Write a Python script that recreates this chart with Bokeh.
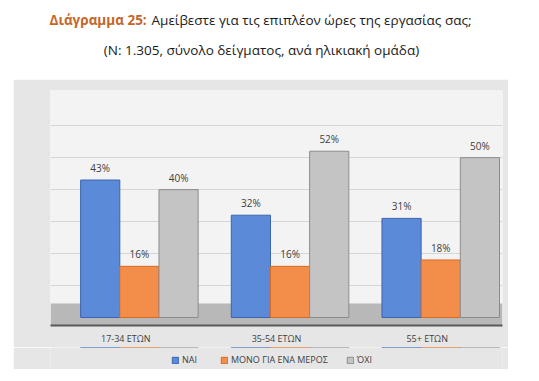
from bokeh.plotting import figure
from bokeh.models import FactorRange, Range1d, ColumnDataSource, Legend, LegendItem, FixedTicker, BoxAnnotation
from bokeh.transform import dodge
from bokeh.layouts import column
from bokeh.core.properties import value
from bokeh.embed import file_html
from bokeh.resources import INLINE

# ---- data ----
categories = ["17-34 ΕΤΩΝ", "35-54 ΕΤΩΝ", "55+ ΕΤΩΝ"]
series_names = ["ΝΑΙ", "ΜΟΝΟ ΓΙΑ ΕΝΑ ΜΕΡΟΣ", "ΌΧΙ"]
nai = [43, 32, 31]
merika = [16, 16, 18]
ochi = [40, 52, 50]
grid_ticks = [10, 20, 30, 40, 50, 60]

title_bold = "Διάγραμμα 25:"
title_rest = "Αμείβεστε για τις επιπλέον ώρες της εργασίας σας;"
subtitle = "(N: 1.305, σύνολο δείγματος, ανά ηλικιακή ομάδα)"

FONT = "Open Sans"
PANEL = "#e6e6e6"
fills = ["#5b8ad8", "#f38e4a", "#c4c4c4"]
lines = ["#3a64b0", "#d96a22", "#8c8c8c"]

# ---- header ----
h = figure(frame_width=490, frame_height=79, x_range=Range1d(37, 527), y_range=Range1d(79, 0),
           x_axis_type=None, y_axis_type=None,
           toolbar_location=None, output_backend="svg", min_border=0)
h.grid.visible = False
h.outline_line_color = None
h.text(x=[49], y=[19], text=[title_bold], text_font=value(FONT), text_font_size="13.5px",
       text_font_style="bold", text_color="#c5662a", text_baseline="middle", text_align="left")
h.text(x=[151], y=[19], text=[title_rest], text_font=value(FONT), text_font_size="13.5px",
       text_color="#1a1a1a", text_baseline="middle", text_align="left")
h.text(x=[261], y=[49], text=[subtitle], text_font=value(FONT), text_font_size="13.5px",
       text_color="#1a1a1a", text_baseline="middle", text_align="center")

# ---- chart ----
src = ColumnDataSource(dict(
    cat=categories, nai=nai, merika=merika, ochi=ochi,
    nai_t=[f"{v}%" for v in nai], merika_t=[f"{v}%" for v in merika], ochi_t=[f"{v}%" for v in ochi],
))

p = figure(frame_width=452, frame_height=235, x_range=FactorRange(*categories), y_range=Range1d(-2.5, 71),
           toolbar_location=None, output_backend="svg",
           min_border_left=37, min_border_right=6, min_border_top=11, min_border_bottom=22)
p.margin = (0, 0, 0, 13)
p.background_fill_color = "#f3f3f3"
p.border_fill_color = PANEL
p.outline_line_color = None

p.yaxis.visible = False
p.ygrid.ticker = FixedTicker(ticks=grid_ticks)
p.ygrid.grid_line_color = "#d6d6d6"
p.xgrid.visible = False

p.add_layout(BoxAnnotation(bottom=-2.5, top=4.4, fill_color="#b8b8b8", fill_alpha=1.0,
                           line_color=None, level="underlay"))

offsets = [-0.17, 0.09, 0.35]
cols = ["nai", "merika", "ochi"]

for off, fc, lc, c in zip(offsets, fills, lines, cols):
    p.vbar(x=dodge("cat", off, range=p.x_range), top=c, bottom=0, width=0.26, source=src,
           fill_color=fc, line_color=lc, line_width=1)
    p.text(x=dodge("cat", off, range=p.x_range), y=c, text=c + "_t", source=src,
           text_font=value(FONT), text_font_size="10px", text_color="#404040",
           text_align="center", text_baseline="bottom", y_offset=-5)

xa = p.xaxis[0]
xa.axis_label = None
xa.axis_line_color = "#595959"
xa.axis_line_width = 2
xa.major_tick_line_color = None
xa.minor_tick_line_color = None
xa.major_tick_out = 0
xa.major_tick_in = 0
xa.minor_tick_out = 0
xa.major_label_text_font = FONT
xa.major_label_text_font_size = "9px"
xa.major_label_text_color = "#404040"
xa.major_label_standoff = 6

# ---- legend strip (continues the grey panel); its bars lie outside its view ----
lg = figure(frame_width=452, frame_height=22, x_range=FactorRange(*categories), y_range=Range1d(-20, -10),
            x_axis_type=None, y_axis_type=None, toolbar_location=None, output_backend="svg",
            min_border_left=37, min_border_right=6, min_border_top=0, min_border_bottom=0)
lg.margin = (0, 0, 0, 13)
lg.background_fill_color = PANEL
lg.border_fill_color = PANEL
lg.outline_line_color = None
lg.grid.visible = False
items = []
for name, off, fc, lc, c in zip(series_names, offsets, fills, lines, cols):
    r = lg.vbar(x=dodge("cat", off, range=lg.x_range), top=c, bottom=0, width=0.26, source=src,
                fill_color=fc, line_color=lc)
    items.append(LegendItem(label=name, renderers=[r]))

legend = Legend(items=items, orientation="horizontal", location=(121, 3))
legend.background_fill_alpha = 0
legend.border_line_color = None
legend.glyph_width = 8
legend.glyph_height = 8
legend.label_text_font = FONT
legend.label_text_font_size = "9px"
legend.label_text_color = "#404040"
legend.spacing = 18
legend.padding = 3
legend.margin = 0
legend.label_standoff = 3
legend.label_height = 10
lg.add_layout(legend, "center")

layout = column(h, p, lg, spacing=0)
open("out.html", "w").write(file_html(layout, INLINE))
